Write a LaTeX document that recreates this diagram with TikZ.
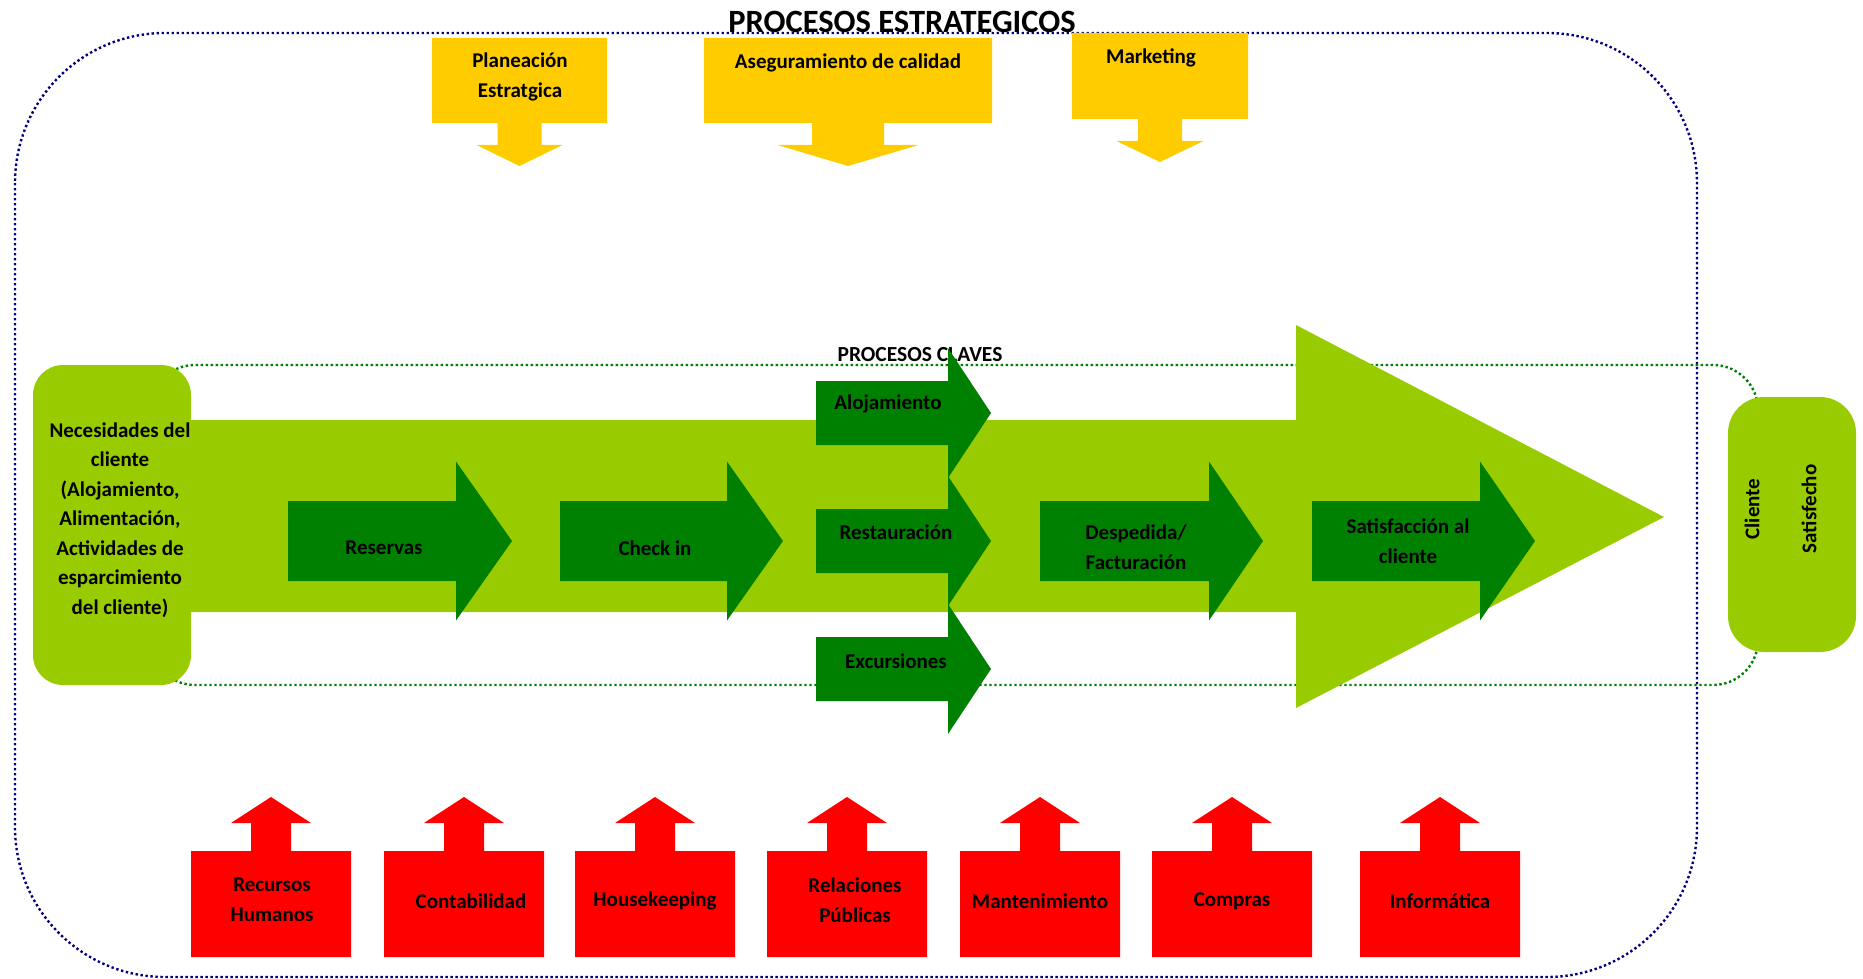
\documentclass[tikz,border=0pt]{standalone}
\usepackage{fontspec}
\setmainfont{Carlito}
\definecolor{yel}{HTML}{FFCC00}
\definecolor{lgreen}{HTML}{99CC00}
\definecolor{dgreen}{HTML}{008000}
\definecolor{rojo}{HTML}{FF0000}
\definecolor{outerblue}{HTML}{000080}
\newcommand{\ydown}[9]{\fill[yel] (#1,#3) -- (#2,#3) -- (#2,#4) -- (#5+#6,#4) -- (#5+#6,#7) -- (#5+#8,#7) -- (#5,#9) -- (#5-#8,#7) -- (#5-#6,#7) -- (#5-#6,#4) -- (#1,#4) -- cycle;}
\newcommand{\rup}[1]{\fill[rojo] (#1,957) -- (#1,851) -- (#1+60,851) -- (#1+60,823) -- (#1+40,823) -- (#1+80,797) -- (#1+120,823) -- (#1+100,823) -- (#1+100,851) -- (#1+160,851) -- (#1+160,957) -- cycle;}
\newcommand{\garrow}[6]{\fill[dgreen] (#1,#2-#5) -- (#1+#3,#2-#5) -- (#1+#3,#2-#6) -- (#1+#3+#4,#2) -- (#1+#3,#2+#6) -- (#1+#3,#2+#5) -- (#1,#2+#5) -- cycle;}
\tikzset{
  lbl/.style={font=\bfseries\fontsize{21}{29.5}\selectfont, align=center, inner sep=0pt, text=black},
  outerdot/.style={draw=outerblue, line width=2.4pt, dash pattern=on 2.4pt off 2.6pt, rounded corners=150pt},
  innerdot/.style={draw=dgreen, line width=2.4pt, dash pattern=on 2.4pt off 2.6pt, rounded corners=45pt},
}
\begin{document}
\begin{tikzpicture}[x=1pt,y=-1pt]
\useasboundingbox (0,0) rectangle (1863,979);
% outer frame
\draw[outerdot] (15,33) rectangle (1697,977);
\node[lbl, font=\bfseries\fontsize{32.5}{38}\selectfont] (title) at (902,22) {PROCESOS ESTRATEGICOS};
% inner dotted frame
\draw[innerdot] (150,365) rectangle (1758,685);
% big light green arrow
\fill[lgreen] (180,420) -- (1296,420) -- (1296,325) -- (1664,517) -- (1296,708) -- (1296,612) -- (180,612) -- cycle;
% necesidades box
\fill[lgreen, rounded corners=30pt] (33,365) rectangle (191,685);
\node[lbl] (nec) at (120,520) {Necesidades del\\cliente\\(Alojamiento,\\Alimentación,\\Actividades de\\esparcimiento\\del cliente)};
\node[lbl, font=\bfseries\fontsize{21.5}{26}\selectfont] (claves) at (920,355) {PROCESOS CLAVES};
% dark green arrows
\garrow{288}{541}{168}{56}{40}{79.5}
\garrow{560}{541}{167}{56}{40}{79.5}
\garrow{816}{413}{132}{43}{32}{65}
\garrow{816}{541}{132}{43}{32}{65}
\garrow{816}{669}{132}{43}{32}{65}
\garrow{1040}{541}{169}{54}{40}{79.5}
\garrow{1312}{541}{168}{55}{40}{79.5}
\node[lbl] (reservas) at (384,548) {Reservas};
\node[lbl] (checkin) at (655,548) {Check in};
\node[lbl] (aloj) at (888,404) {Alojamiento};
\node[lbl] (rest) at (896,532) {Restauración};
\node[lbl] (exc) at (896,661) {Excursiones};
\node[lbl] (desp) at (1136,547) {Despedida/\\Facturación};
\node[lbl] (satis) at (1408,541) {Satisfacción al\\cliente};
% cliente satisfecho
\fill[lgreen, rounded corners=36pt] (1728,397) rectangle (1856,652);
\node[lbl, rotate=90] (cli) at (1752,509) {Cliente};
\node[lbl, rotate=90] (sat) at (1809,509) {Satisfecho};
% yellow strategic
\ydown{432}{607}{38}{123}{519.5}{22}{145}{43}{166}
\ydown{704}{992}{38}{123}{848}{36}{145}{70.5}{166}
\ydown{1072}{1248}{33}{119}{1160}{22}{141}{43.5}{162}
\node[lbl] (plan) at (520,77) {Planeación\\Estratgica};
\node[lbl] (aseg) at (848,63) {Aseguramiento de calidad};
\node[lbl] (mkt) at (1151,58) {Marketing};
% red support
\rup{191}
\rup{384}
\rup{575}
\rup{767}
\rup{960}
\rup{1152}
\rup{1360}
\node[lbl] (rh) at (272,900) {Recursos\\Humanos};
\node[lbl] (cont) at (471,901) {Contabilidad};
\node[lbl] (house) at (655,901) {Housekeeping};
\node[lbl] (rp) at (855,900) {Relaciones\\Públicas};
\node[lbl] (mant) at (1040,901) {Mantenimiento};
\node[lbl] (comp) at (1232,901) {Compras};
\node[lbl] (inf) at (1440,901) {Informática};
\end{tikzpicture}
\end{document}
